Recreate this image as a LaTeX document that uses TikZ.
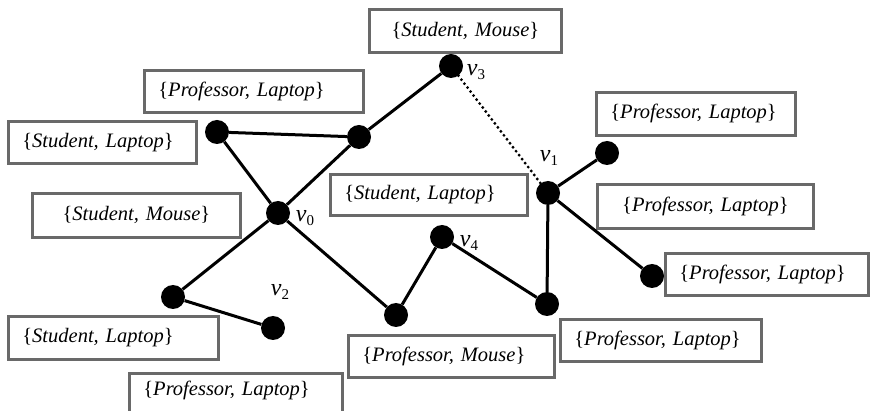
\documentclass[tikz,border=0pt]{standalone}
\usepackage{fontspec}
\setmainfont{Liberation Serif}
\usetikzlibrary{positioning}

\definecolor{boxgray}{RGB}{105,105,105}
\newcommand{\vlab}[1]{\fontsize{24}{24}\selectfont\textit{v}\raisebox{-0.35ex}{\fontsize{15}{15}\selectfont #1}}
\newcommand{\pair}[2]{\{\textit{#1, #2}\}}

\tikzset{
  tag/.style={draw=boxgray, line width=2.8pt, anchor=north west, inner xsep=14pt,
    inner ysep=0pt, align=left, font=\fontsize{20.5}{23}\selectfont, text width=#1},
  ctag/.style={tag=#1, align=center},
  vert/.style={circle, fill=black, minimum size=24pt, inner sep=0pt},
  vname/.style={inner sep=0pt},
  edge/.style={line width=3pt},
}

\begin{document}
\begin{tikzpicture}[x=1pt,y=-1pt]

    \useasboundingbox (0,0) rectangle (870,411);
    \clip (0,0) rectangle (870,411);

    % Draw the boxes
    \node[tag=191pt, minimum height=42pt] (pl1) at (143,69) {\pair{Professor}{Laptop}};
    \node[tag=160pt, minimum height=42pt] (sl1) at (7,120) {\pair{Student}{Laptop}};
    \node[ctag=164pt, minimum height=43pt] (sm1) at (368,8) {\pair{Student}{Mouse}};
    \node[tag=169pt, minimum height=41pt] (sl2) at (329,173) {\pair{Student}{Laptop}};
    \node[ctag=180pt, minimum height=44pt] (sm2) at (31,192) {\pair{Student}{Mouse}};
    \node[tag=171pt, minimum height=43pt] (pl2) at (595,91) {\pair{Professor}{Laptop}};
    \node[ctag=188pt, minimum height=44pt] (pl3) at (596,183) {\pair{Professor}{Laptop}};
    \node[tag=175pt, minimum height=42pt] (pl4) at (664,252) {\pair{Professor}{Laptop}};
    \node[tag=173pt, minimum height=42pt] (pl5) at (559,318) {\pair{Professor}{Laptop}};
    \node[tag=178pt, minimum height=42pt] (pm) at (347,334) {\pair{Professor}{Mouse}};
    \node[tag=182pt, minimum height=43pt] (sl3) at (7,315) {\pair{Student}{Laptop}};
    \node[tag=185pt, minimum height=43pt, text depth=14pt] (pl6) at (128,372) {\pair{Professor}{Laptop}};

    % Draw the vertices
    \node[vert] (lt) at (217,132) {};
    \node[vert] (mt) at (359,137) {};
    \node[vert] (v3) at (451,66) {};
    \node[vert] (v1) at (548,193) {};
    \node[vert] (rt) at (607,153) {};
    \node[vert] (v0) at (278,213) {};
    \node[vert] (lb) at (173,297) {};
    \node[vert] (v2) at (273,328) {};
    \node[vert] (mb) at (396,315) {};
    \node[vert] (v4) at (442,237) {};
    \node[vert] (rb) at (547,304) {};
    \node[vert] (rr) at (652,276) {};

    % Draw the edges
    \draw[edge] (lt) -- (mt);
    \draw[edge] (lt) -- (v0);
    \draw[edge] (v0) -- (mt);
    \draw[edge] (mt) -- (v3);
    \draw[edge, line cap=round, dash pattern=on 0pt off 5pt, line width=3.2pt] (v3) -- (v1);
    \draw[edge] (v1) -- (rt);
    \draw[edge] (v1) -- (rr);
    \draw[edge] (v1) -- (rb);
    \draw[edge] (rb) -- (v4);
    \draw[edge] (v4) -- (mb);
    \draw[edge] (mb) -- (v0);
    \draw[edge] (v0) -- (lb);
    \draw[edge] (lb) -- (v2);

    % Add vertex names
    \node[vname] (n0) at (305,218) {\vlab{0}};
    \node[vname] (n1) at (549,158) {\vlab{1}};
    \node[vname] (n2) at (280,292) {\vlab{2}};
    \node[vname] (n3) at (476,72) {\vlab{3}};
    \node[vname] (n4) at (469,243) {\vlab{4}};

\end{tikzpicture}
\end{document}
